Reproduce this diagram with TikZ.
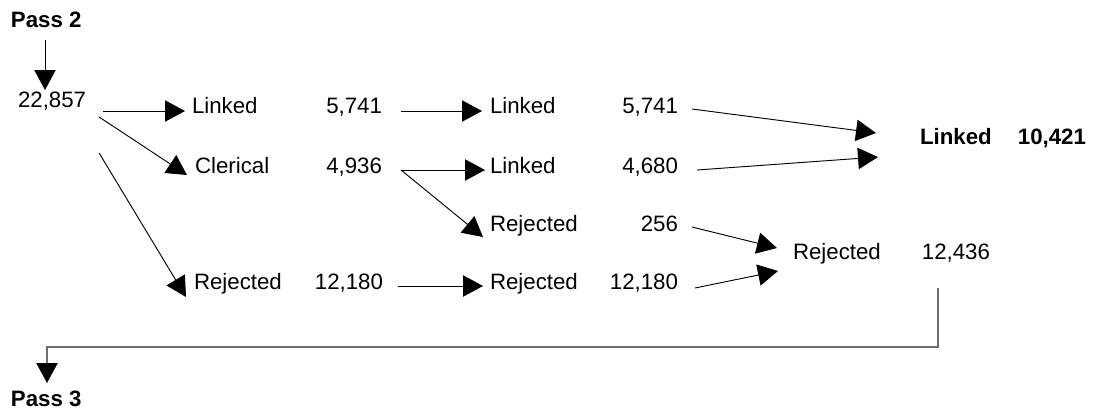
\documentclass[tikz,border=0pt]{standalone}
\usepackage{fontspec}
\setmainfont{Liberation Sans}
\usetikzlibrary{arrows.meta,calc}
\definecolor{linegray}{RGB}{110,110,110}
\begin{document}
\begin{tikzpicture}[x=0.75pt,y=-0.75pt,
  txt/.style={inner sep=0pt,outer sep=0pt,anchor=base west,font=\fontsize{16.7}{20}\selectfont},
  num/.style={txt,anchor=base east},
  btxt/.style={txt,font=\fontsize{16.7}{20}\selectfont\bfseries},
  bnum/.style={btxt,anchor=base east},
  conn/.style={draw=black,line width=0.7pt,-{Triangle[length=15pt,width=16pt]}},
  passline/.style={draw=linegray,line width=1pt,-{Triangle[length=15pt,width=16pt,color=black]}}]
\useasboundingbox (0,0) rectangle (1093,415);

% texts
\node[btxt] (p2) at (11,27) {Pass 2};
\node[txt] (n0) at (18,107) {22,857};
\node[txt] (l1) at (192,113) {Linked};
\node[num] (v1) at (382,113) {5,741};
\node[txt] (l1b) at (490,113) {Linked};
\node[num] (v1b) at (678,113) {5,741};
\node[txt] (c1) at (195,173) {Clerical};
\node[num] (v2) at (382,173) {4,936};
\node[txt] (l2b) at (490,173) {Linked};
\node[num] (v2b) at (678,173) {4,680};
\node[txt] (r2b) at (490,231) {Rejected};
\node[num] (v3b) at (678,231) {256};
\node[txt] (r1) at (194,289) {Rejected};
\node[num] (v4) at (383,289) {12,180};
\node[txt] (r1b) at (490,289) {Rejected};
\node[num] (v4b) at (678,289) {12,180};
\node[txt] (rt) at (793,259) {Rejected};
\node[num] (vt) at (990,259) {12,436};
\node[btxt] (lt) at (920,144) {Linked};
\node[bnum] (vlt) at (1086,144) {10,421};
\node[btxt] (p3) at (11,406) {Pass 3};

% connectors
\draw[conn] ($(p2.base west)+(34,13)$) -- ($(n0.base west)+(27,-17)$);
\draw[conn] ($(n0.base east)+(17,4)$) -- ($(l1.base west)+(-7,-2)$);
\draw[conn] ($(n0.base east)+(13,10)$) -- ($(c1.base west)+(-8,2)$);
\draw[conn] ($(n0.base east)+(13,46)$) -- ($(r1.base west)+(-8,8)$);
\draw[conn] ($(v1.base east)+(19,-2)$) -- ($(l1b.base west)+(-8,-2)$);
\draw[conn] ($(v2.base east)+(19,-3)$) -- ($(l2b.base west)+(-5,-3)$);
\draw[conn] ($(v2.base east)+(19,-3)$) -- ($(r2b.base west)+(-7,6)$);
\draw[conn] ($(v4.base east)+(15,-3)$) -- ($(r1b.base west)+(-7,-3)$);
\draw[conn] ($(v1b.base east)+(14,-4)$) -- ($(lt.base west)+(-44,-11)$);
\draw[conn] ($(v2b.base east)+(19,-3)$) -- ($(lt.base west)+(-42,13)$);
\draw[conn] ($(v3b.base east)+(14,-4)$) -- ($(rt.base west)+(-16,-11)$);
\draw[conn] ($(v4b.base east)+(17,-1)$) -- ($(rt.base west)+(-15,12)$);
\draw[passline] ($(vt.base east)+(-52,29)$) -- ++(0,59) -| ($(p3.base west)+(36,-23)$);
\end{tikzpicture}
\end{document}
